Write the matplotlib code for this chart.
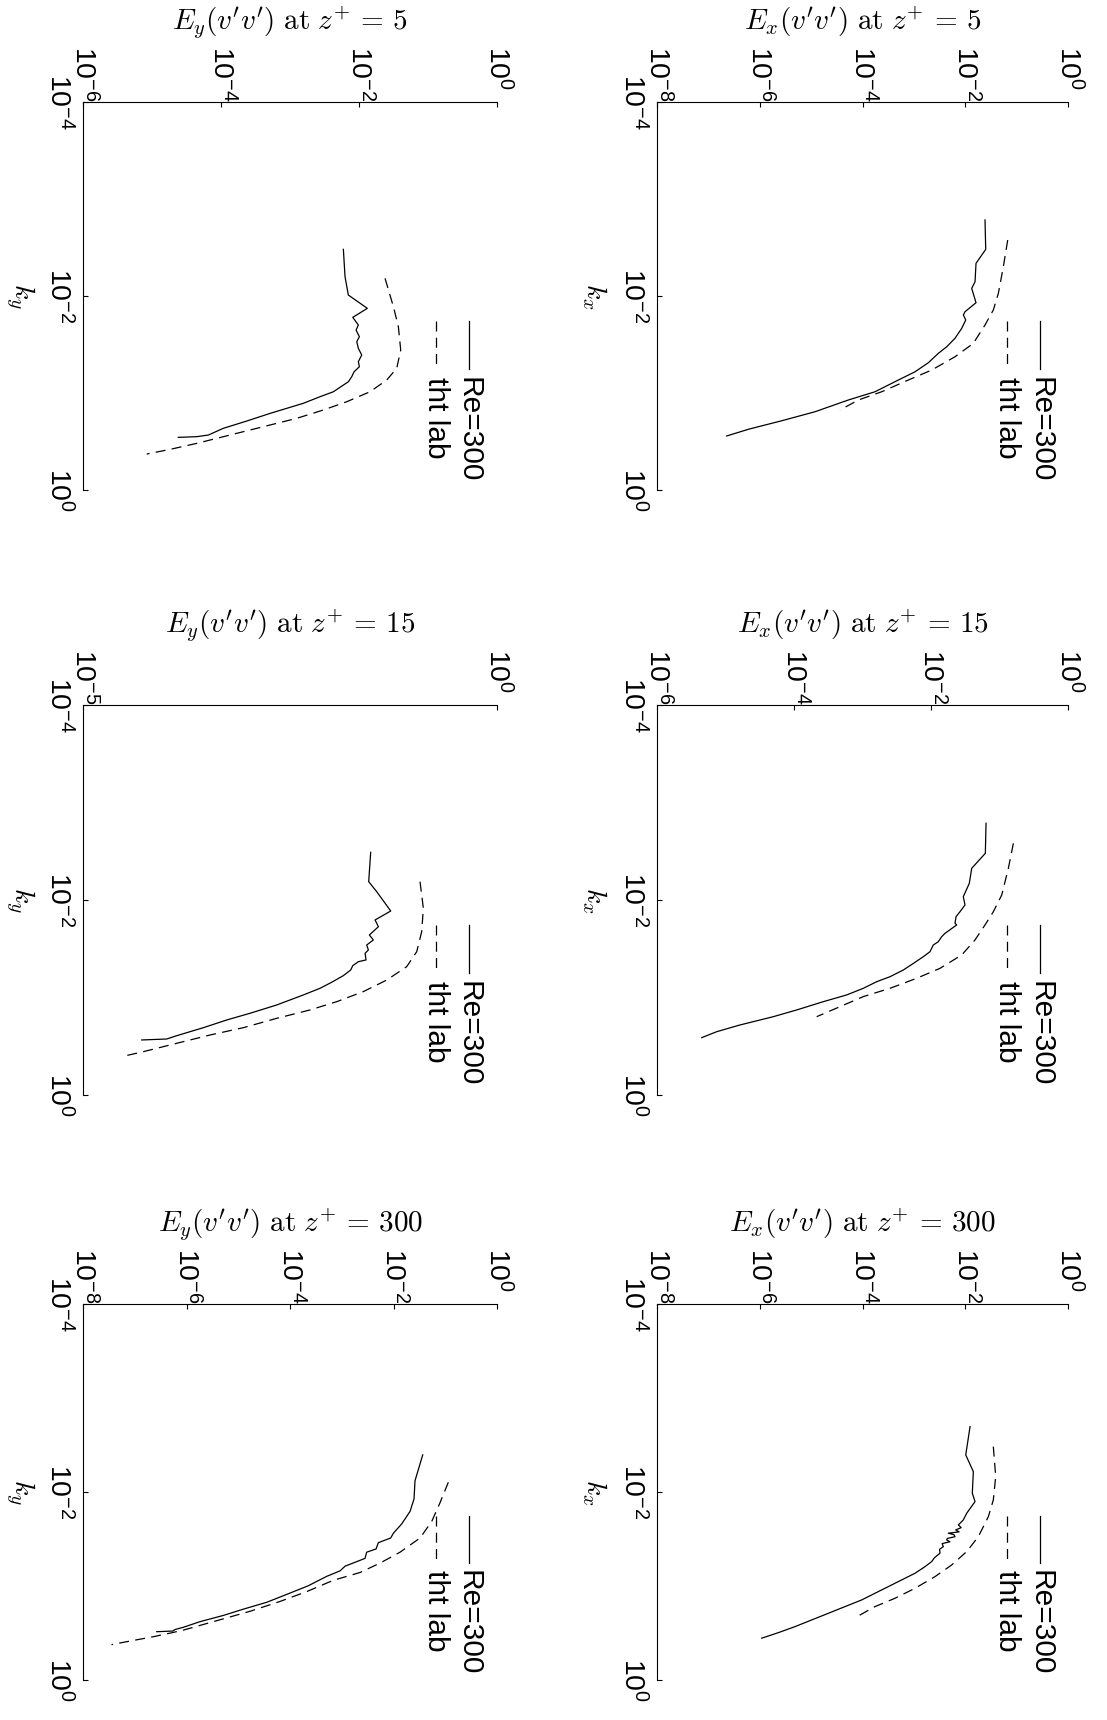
import numpy as np
import matplotlib
matplotlib.use("Agg")
import matplotlib.pyplot as plt

# fonts: helvetica-like for ticks/legend, computer modern for titles
plt.rcParams['font.family'] = ['Liberation Sans', 'DejaVu Sans']
plt.rcParams['mathtext.fontset'] = 'custom'
plt.rcParams['mathtext.rm'] = 'Liberation Sans'
plt.rcParams['mathtext.it'] = 'Liberation Sans:italic'
plt.rcParams['mathtext.bf'] = 'Liberation Sans:bold'

# values are log10 exponents (k = wavenumber, E = spectrum)
# E_x(v'v') at z+=5
ex5_re_k = [-2.784, -2.481, -2.337, -2.147, -2.079, -1.931, -1.838, -1.804, -1.753, -1.667, -1.564,
            -1.477, -1.409, -1.312, -1.219, -1.134, -1.013, -0.928, -0.807, -0.714, -0.626, -0.557]
ex5_re_E = [-1.616, -1.602, -1.791, -1.81, -1.875, -1.791, -2.005, -2.037, -1.991, -2.069, -2.2,
            -2.361, -2.524, -2.719, -2.978, -3.303, -3.757, -4.276, -4.925, -5.573, -6.223, -6.644]
ex5_th_k = [-2.577, -2.302, -2.028, -1.856, -1.701, -1.512, -1.374, -1.237, -1.134, -1.013, -0.928, -0.825]
ex5_th_E = [-1.174, -1.259, -1.356, -1.454, -1.616, -1.843, -2.2, -2.653, -3.108, -3.627, -4.081, -4.438]

# E_y(v'v') at z+=5
ey5_re_k = [-2.481, -2.199, -2.01, -1.873, -1.78, -1.701, -1.649, -1.58, -1.529, -1.46, -1.392, -1.323,
            -1.271, -1.219, -1.168, -1.116, -1.082, -1.013, -0.962, -0.894, -0.842, -0.79, -0.711,
            -0.636, -0.567, -0.55, -0.543]
ey5_re_E = [-2.227, -2.203, -2.155, -1.88, -2.091, -2.01, -2.043, -1.995, -2.033, -2.01, -1.961, -2.01,
            -1.995, -2.072, -2.106, -2.155, -2.227, -2.372, -2.565, -2.807, -3.048, -3.29, -3.628,
            -3.967, -4.184, -4.352, -4.619]
ey5_th_k = [-2.182, -1.89, -1.684, -1.443, -1.254, -1.134, -1.013, -0.91, -0.825, -0.739, -0.653,
            -0.567, -0.481, -0.419, -0.371]
ey5_th_E = [-1.623, -1.502, -1.43, -1.396, -1.454, -1.599, -1.841, -2.179, -2.517, -2.903, -3.387,
            -3.87, -4.352, -4.739, -5.077]

# E_x(v'v') at z+=15
ex15_re_k = [-2.787, -2.479, -2.325, -2.171, -2.034, -1.949, -1.88, -1.829, -1.761, -1.744, -1.658,
             -1.624, -1.572, -1.538, -1.47, -1.418, -1.35, -1.282, -1.213, -1.162, -1.094, -1.026,
             -0.957, -0.872, -0.803, -0.718, -0.649, -0.588]
ex15_re_E = [-1.197, -1.207, -1.406, -1.441, -1.529, -1.504, -1.577, -1.635, -1.65, -1.625, -1.796,
             -1.844, -1.894, -1.967, -2.015, -2.113, -2.257, -2.404, -2.599, -2.793, -2.988, -3.231,
             -3.572, -3.961, -4.302, -4.788, -5.128, -5.347]
ex15_th_k = [-2.582, -2.325, -2.051, -1.88, -1.744, -1.59, -1.436, -1.299, -1.197, -1.094, -1.009,
             -0.906, -0.803]
ex15_th_E = [-0.798, -0.871, -0.968, -1.09, -1.212, -1.358, -1.552, -1.869, -2.209, -2.599, -2.988,
             -3.328, -3.669]

# E_y(v'v') at z+=15
ey15_re_k = [-2.489, -2.188, -2.085, -1.887, -1.795, -1.726, -1.641, -1.59, -1.538, -1.487, -1.453,
             -1.385, -1.367, -1.326, -1.282, -1.224, -1.156, -1.094, -1.026, -0.923, -0.838, -0.769,
             -0.69, -0.608, -0.574, -0.564]
ey15_re_E = [-1.526, -1.55, -1.453, -1.284, -1.473, -1.433, -1.542, -1.494, -1.574, -1.554, -1.594,
             -1.582, -1.675, -1.743, -1.767, -1.856, -1.997, -2.138, -2.339, -2.661, -2.983, -3.265,
             -3.547, -3.868, -3.989, -4.291]
ey15_th_k = [-2.188, -1.915, -1.675, -1.47, -1.316, -1.179, -1.06, -0.957, -0.872, -0.786, -0.69,
             -0.615, -0.53, -0.444, -0.393]
ey15_th_E = [-0.93, -0.89, -0.91, -0.97, -1.091, -1.332, -1.615, -1.936, -2.259, -2.661, -3.064,
             -3.466, -3.868, -4.272, -4.533]

# E_x(v'v') at z+=300
ex300_re_k = [-2.695, -2.394, -2.216, -1.986, -1.897, -1.773, -1.702, -1.649, -1.62, -1.596, -1.575,
              -1.561, -1.545, -1.524, -1.505, -1.489, -1.47, -1.45, -1.418, -1.39, -1.348, -1.3,
              -1.259, -1.205, -1.135, -1.064, -0.993, -0.922, -0.851, -0.78, -0.709, -0.638,
              -0.567, -0.503, -0.444]
ex300_re_E = [-1.907, -1.991, -1.843, -1.863, -1.81, -1.973, -2.038, -2.135, -2.08, -2.186, -2.12,
              -2.33, -2.22, -2.2, -2.35, -2.362, -2.3, -2.45, -2.427, -2.5, -2.492, -2.6,
              -2.654, -2.784, -2.978, -3.237, -3.497, -3.757, -4.016, -4.341, -4.665, -4.989,
              -5.314, -5.638, -5.962]
ex300_th_k = [-2.482, -2.163, -1.915, -1.737, -1.524, -1.365, -1.223, -1.099, -0.975, -0.869, -0.78, -0.681]
ex300_th_E = [-1.454, -1.408, -1.454, -1.551, -1.746, -1.973, -2.265, -2.589, -2.978, -3.367, -3.757, -4.081]

# E_y(v'v') at z+=300
ey300_re_k = [-2.394, -2.119, -1.926, -1.793, -1.660, -1.560, -1.510, -1.460, -1.393, -1.359, -1.293,
              -1.210, -1.160, -1.102, -1.002, -0.910, -0.826, -0.753, -0.686, -0.620, -0.560,
              -0.536, -0.520, -0.513]
ey300_re_E = [-1.436, -1.585, -1.604, -1.681, -1.842, -2.004, -2.055, -2.294, -2.338, -2.519, -2.551,
              -2.937, -3.034, -3.291, -3.647, -4.064, -4.45, -4.902, -5.289, -5.739, -6.061,
              -6.222, -6.267, -6.576]
ey300_th_k = [-2.103, -1.886, -1.686, -1.510, -1.359, -1.243, -1.143, -1.06, -0.94, -0.835, -0.73,
              -0.63, -0.53, -0.50, -0.46, -0.40, -0.375]
ey300_th_E = [-0.941, -1.101, -1.262, -1.488, -1.874, -2.261, -2.647, -3.163, -3.677, -4.193, -4.773,
              -5.417, -6.061, -6.3, -6.64, -7.221, -7.45]

titles = [r"$E_x(v^{\prime}v^{\prime})\ \mathrm{at}\ z^{+}\,=\,5$", r"$E_y(v^{\prime}v^{\prime})\ \mathrm{at}\ z^{+}\,=\,5$",
          r"$E_x(v^{\prime}v^{\prime})\ \mathrm{at}\ z^{+}\,=\,15$", r"$E_y(v^{\prime}v^{\prime})\ \mathrm{at}\ z^{+}\,=\,15$",
          r"$E_x(v^{\prime}v^{\prime})\ \mathrm{at}\ z^{+}\,=\,300$", r"$E_y(v^{\prime}v^{\prime})\ \mathrm{at}\ z^{+}\,=\,300$"]
klabels = [r"$k_x$", r"$k_y$"] * 3
e_ticks = [[-8, -6, -4, -2, 0], [-6, -4, -2, 0],
           [-6, -4, -2, 0], [-5, 0],
           [-8, -6, -4, -2, 0], [-8, -6, -4, -2, 0]]
k_ticks = [-4, -2, 0]
legend_labels = ["Re=300", "tht lab"]

re_k = [ex5_re_k, ey5_re_k, ex15_re_k, ey15_re_k, ex300_re_k, ey300_re_k]
re_E = [ex5_re_E, ey5_re_E, ex15_re_E, ey15_re_E, ex300_re_E, ey300_re_E]
th_k = [ex5_th_k, ey5_th_k, ex15_th_k, ey15_th_k, ex300_th_k, ey300_th_k]
th_E = [ex5_th_E, ey5_th_E, ex15_th_E, ey15_th_E, ex300_th_E, ey300_th_E]

# figure is drawn "turned on its side": E runs left->right, k runs top->bottom
fig = plt.figure(figsize=(11.07, 17.2), dpi=100)
fig.patch.set_facecolor('white')

col_left = {0: 0.5935, 1: 0.0750}   # E_x on the right, E_y on the left
col_w = {0: 0.3713, 1: 0.3740}
rows = [(0.7151, 0.2256), (0.3634, 0.2267), (0.0233, 0.2186)]

dash = (0, (8, 5))
tick_fs = 20.5

for i in range(6):
    r, c = i // 2, i % 2
    ax = fig.add_axes([col_left[c], rows[r][0], col_w[c], rows[r][1]])
    ax.set_xscale('log')
    ax.set_yscale('log')

    ax.plot(10.0 ** np.array(re_E[i]), 10.0 ** np.array(re_k[i]), color='black', lw=0.9)
    ax.plot(10.0 ** np.array(th_E[i]), 10.0 ** np.array(th_k[i]), color='black', lw=0.9, ls=dash)

    emin = 10.0 ** e_ticks[i][0]
    ax.set_xlim(emin, 1.0)
    ax.set_ylim(1.0, 1e-4)
    ax.minorticks_off()

    for s in ['bottom', 'right']:
        ax.spines[s].set_visible(False)
    for s in ['top', 'left']:
        ax.spines[s].set_linewidth(0.8)

    # E axis along the top, labels drawn rotated
    ax.xaxis.set_ticks_position('top')
    ax.set_xticks([10.0 ** e for e in e_ticks[i]])
    ax.tick_params(axis='x', which='both', direction='in', length=3.5, width=0.8,
                   labeltop=False, labelbottom=False)
    for e in e_ticks[i]:
        ax.annotate(r"$10^{%d}$" % e, xy=(10.0 ** e, 1.0), xycoords=('data', 'axes fraction'),
                    xytext=(0, 40.5), textcoords='offset points', rotation=-90,
                    ha='center', va='top', fontsize=tick_fs, annotation_clip=False)

    # k axis along the left
    ax.yaxis.set_ticks_position('left')
    ax.set_yticks([10.0 ** k for k in k_ticks])
    ax.set_yticklabels([r"$10^{%d}$" % k for k in k_ticks], rotation=-90, va='center', fontsize=tick_fs)
    ax.tick_params(axis='y', which='both', direction='in', length=3.5, width=0.8, pad=7)

    ax.set_ylabel(klabels[i], fontsize=20, math_fontfamily='cm')
    ax.yaxis.label.set(rotation=-90, va='center', ha='center')
    ax.yaxis.set_label_coords(-0.153, 0.5)

    ax.set_title(titles[i], fontsize=21, math_fontfamily='cm', y=1.0, pad=52)

    # legend, turned like the rest of the figure
    xs = [0.932, 0.852]
    for j, lbl in enumerate(legend_labels):
        ax.plot([xs[j], xs[j]], [0.435, 0.312], transform=ax.transAxes, color='black',
                lw=0.9, ls='-' if j == 0 else dash, clip_on=False)
        ax.text(xs[j], 0.292, lbl, transform=ax.transAxes, rotation=-90,
                ha='center', va='top', fontsize=21.5)

fig.savefig('out.png', dpi=100, facecolor='white')
